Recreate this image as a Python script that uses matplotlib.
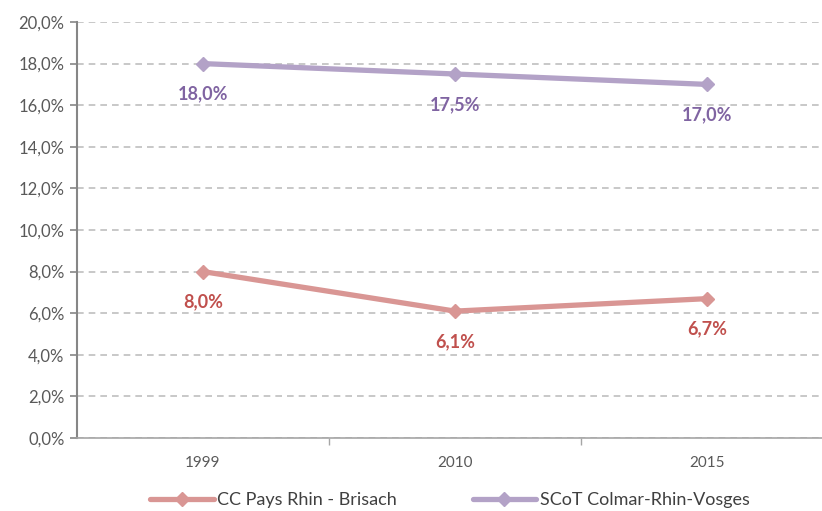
import matplotlib
matplotlib.use("Agg")
import matplotlib.pyplot as plt
from matplotlib.ticker import FixedLocator, FuncFormatter

years = ["1999", "2010", "2015"]
cc_rhin = [8.0, 6.1, 6.7]
scot = [18.0, 17.5, 17.0]
series_names = ["CC Pays Rhin - Brisach", "SCoT Colmar-Rhin-Vosges"]

plt.rcParams["font.family"] = ["Lato", "DejaVu Sans"]

fig = plt.figure(figsize=(8.22, 5.11), dpi=100)
ax = fig.add_axes([77 / 822, 73 / 511, 756 / 822, 416 / 511])

x = list(range(len(years)))
styles = [
    (cc_rhin, "#D99694", "#C0504D"),
    (scot, "#B3A2C7", "#8064A2"),
]
for (vals, lc, tc), name in zip(styles, series_names):
    ax.plot(x, vals, color=lc, lw=3.8, marker="D", ms=7, label=name,
            solid_capstyle="round")
    for xi, v in zip(x, vals):
        ax.annotate(f"{v:.1f}%".replace(".", ","), (xi, v), xytext=(0, -22),
                    textcoords="offset points", ha="center", va="center",
                    color=tc, fontsize=13, fontweight="bold")

ax.set_xlim(-0.5, 2.5)
ax.set_ylim(0, 20)
ax.set_yticks(range(0, 21, 2))
ax.yaxis.set_major_formatter(FuncFormatter(lambda v, p: f"{v:.1f}%".replace(".", ",")))
ax.set_xticks(x)
ax.set_xticklabels(years)
ax.xaxis.set_minor_locator(FixedLocator([0.5, 1.5]))
ax.tick_params(axis="x", which="major", length=0, pad=13, labelsize=11, colors="#595959")
ax.tick_params(axis="x", which="minor", length=5, color="#A6A6A6", width=1)
ax.tick_params(axis="y", length=5, color="#868686", width=1.2, labelsize=12, colors="#595959", pad=4)

ax.grid(axis="y", color="#BFBFBF", lw=1.2, ls=(0, (4, 3)))
ax.set_axisbelow(True)
for s in ["top", "right"]:
    ax.spines[s].set_visible(False)
ax.spines["left"].set_color("#868686")
ax.spines["left"].set_linewidth(1.5)
ax.spines["bottom"].set_color("#A6A6A6")
ax.spines["bottom"].set_linewidth(1.2)

fig.legend(loc="center", bbox_to_anchor=(450 / 822, 11 / 511), ncol=2, frameon=False,
           fontsize=13, handlelength=3.5, columnspacing=4.2, handletextpad=0.2,
           labelcolor="#404040")

fig.savefig("out.png", dpi=100)
